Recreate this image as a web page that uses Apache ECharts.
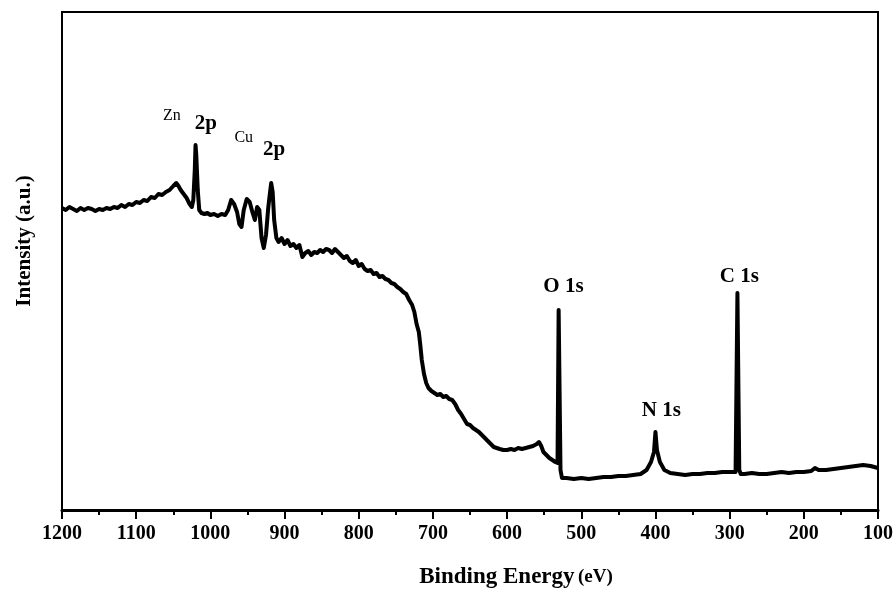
<!DOCTYPE html>
<html>
<head>
<meta charset="utf-8">
<script src="https://cdn.jsdelivr.net/npm/echarts@6/dist/echarts.min.js"></script>
<style>
    html, body { margin: 0; padding: 0; background: #fff; }
    #chart { width: 896px; height: 594px; }
</style>
</head>
<body>
<div id="chart"></div>
<script>
    // binding energy (eV) and intensity (a.u.)
    var energy = [1200,1195,1190,1185,1180,1175,1170,1165,1160,1155,1150,1145,1140,1135,1130,1125,1120,1115,1110,1105,
        1100,1095,1090,1085,1080,1075,1070,1065,1060,1055,1050,1046,1043,1040,1036,1032,1028,1025,1023,1021,
        1020,1019,1017,1015,1012,1008,1004,1000,995,990,985,980,976,972,968,964,961,958,955,951,
        947,943,940,937,934,931,928,925,922,920,918,916,914,911,908,904,900,896,892,888,
        884,880,876,872,868,864,860,856,852,848,844,840,836,832,828,824,820,816,812,808,
        804,800,796,792,788,784,780,776,772,768,764,760,756,752,748,744,740,736,732,728,
        725,722,719,717,715,712,709,706,702,698,694,690,686,682,678,674,670,666,662,658,
        654,650,646,642,638,634,630,626,622,618,614,610,605,600,595,590,585,580,575,570,
        565,560,557,554,551,547,543,539,535,532,530.5,529.5,528,526,520,510,500,490,480,470,
        460,450,440,430,420,412,406,402,400,398,394,388,380,370,360,350,340,330,320,310,
        300,292,289.5,288.5,287,285,280,270,260,250,240,230,220,210,200,190,185,180,170,160,
        150,140,130,120,110,100];
    var intensity = [302,300,303,301,299,302,300,302,301,299,301,300,302,301,303,302,305,303,306,305,
        308,307,310,309,313,312,316,315,318,320,324,327,324,320,316,312,306,303,310,340,
        365,355,320,300,297,296,297,295,296,294,296,295,300,310,306,298,286,283,300,311,
        308,297,290,303,300,272,262,275,302,315,327,318,290,272,268,272,266,270,264,266,
        262,265,253,257,259,255,258,257,260,258,261,260,257,261,258,255,252,254,249,247,
        250,244,246,241,239,240,236,237,233,234,231,230,227,226,223,221,218,216,210,205,
        198,186,178,165,150,136,127,122,119,117,115,116,113,114,111,110,106,100,96,91,
        86,85,82,80,78,75,72,69,66,63,62,61,60,60,61,60,62,61,62,63,
        64,66,68,64,58,55,52,50,48,47,200,200,40,32,32,31,32,31,32,33,
        33,34,34,35,36,40,48,58,78,60,48,40,37,36,35,36,36,37,37,38,
        38,38,217,217,40,36,36,37,36,36,37,38,37,38,38,39,42,40,40,41,
        42,43,44,45,44,42];

    // peak annotations
    var peakText = ['Zn', '2p', 'Cu', '2p', 'O 1s', 'N 1s', 'C 1s'];
    var peakX = [1052, 1006, 955, 914, 524, 392, 287];
    var peakY = [394, 386, 372, 360, 223, 99, 233];
    var peakBig = [false, true, false, true, true, true, true];

    var xTicks = [1200, 1100, 1000, 900, 800, 700, 600, 500, 400, 300, 200, 100];

    var spectrum = [];
    for (var i = 0; i < energy.length; i++) {
        spectrum.push([energy[i], intensity[i]]);
    }
    var notes = [];
    for (var j = 0; j < peakText.length; j++) {
        notes.push({
            value: [peakX[j], peakY[j]],
            label: {
                formatter: peakText[j],
                color: '#000',
                fontSize: peakBig[j] ? 21 : 16,
                fontWeight: peakBig[j] ? 'bold' : 'normal'
            }
        });
    }

    var font = '"Liberation Serif", "DejaVu Serif", serif';
    var myChart = echarts.init(document.getElementById('chart'));
    var option = {
        animation: false,
        grid: {
            left: 62, right: 16, top: 12, bottom: 84,
            show: true,
            borderColor: '#000',
            borderWidth: 2
        },
        xAxis: {
            type: 'value',
            inverse: true,
            min: 100,
            max: 1200,
            interval: 100,
            name: '{b|Binding Energy} {n|(eV)}',
            nameLocation: 'middle',
            nameGap: 56,
            nameTextStyle: {
                padding: [0, 0, 0, 92],
                rich: {
                    b: { fontFamily: font, fontSize: 23, fontWeight: 'bold', color: '#000' },
                    n: { fontFamily: font, fontSize: 19, fontWeight: 'bold', color: '#000' }
                }
            },
            axisLine: { show: true, onZero: false, lineStyle: { color: '#000', width: 3 } },
            axisTick: { show: true, length: 9, lineStyle: { color: '#000', width: 2 } },
            minorTick: { show: true, splitNumber: 2, length: 5, lineStyle: { color: '#000', width: 2 } },
            axisLabel: {
                margin: 14,
                fontFamily: font,
                fontSize: 20,
                fontWeight: 'bold',
                color: '#000',
                formatter: function (v) { return xTicks.indexOf(v) >= 0 ? String(v) : ''; }
            },
            splitLine: { show: false }
        },
        yAxis: {
            type: 'value',
            min: 0,
            max: 498,
            name: 'Intensity (a.u.)',
            nameLocation: 'middle',
            nameGap: 27,
            nameTextStyle: { fontFamily: font, fontSize: 21, fontWeight: 'bold', color: '#000', padding: [0, 0, 0, 40] },
            axisLine: { show: true, lineStyle: { color: '#000', width: 2 } },
            axisTick: { show: false },
            axisLabel: { show: false },
            splitLine: { show: false }
        },
        series: [
            {
                name: 'spectrum',
                type: 'line',
                data: spectrum,
                showSymbol: false,
                symbol: 'none',
                lineStyle: { color: '#000', width: 4, join: 'round' }
            },
            {
                name: 'peaks',
                type: 'scatter',
                data: notes,
                symbolSize: 0,
                silent: true,
                itemStyle: { color: '#000', opacity: 1 },
                label: {
                    show: true,
                    position: 'inside',
                    fontFamily: font,
                    color: '#000',
                    textBorderWidth: 0
                }
            }
        ]
    };
    myChart.setOption(option);
</script>
</body>
</html>
